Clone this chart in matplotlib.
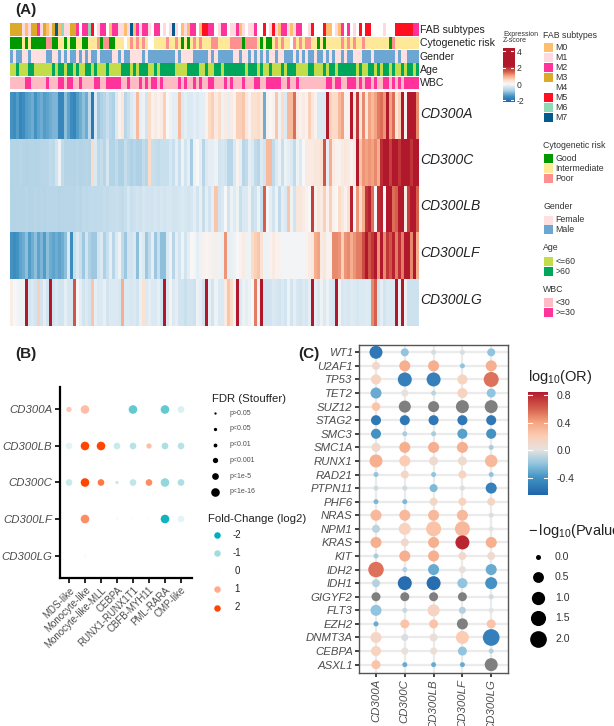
import numpy as np
import matplotlib
matplotlib.use('Agg')
from matplotlib import pyplot as plt
from matplotlib.colors import ListedColormap, LinearSegmentedColormap, Normalize
from matplotlib.patches import Rectangle

plt.rcParams['font.family'] = ['Liberation Sans', 'DejaVu Sans']
plt.rcParams['mathtext.fontset'] = 'custom'
plt.rcParams['mathtext.rm'] = 'Liberation Sans'
plt.rcParams['mathtext.default'] = 'regular'

W, H = 614, 726

# panel A annotation tracks, one char per patient
fab = ("3333101332" "1301370611" "3324226541" "2240221101" "7021221422"
       "4141714010" "2240552241" "2241120141" "1244541510" "2210122441"
       "5444500410" "2424145455" "4444144455" "555522")
cyto = ("GGGGIGIGGG" "GGPPGGIIGI" "GGIIGGIIIP" "GPPGGIIIWI" "PIPIPIWWII"
        "IIPIIPIGIG" "IPIPIIIPPI" "IIIPPPPGPP" "PPIGIGGIPI" "PIIWPIPIPP"
        "IIGIGIIIII" "PIPIPIIPII" "IIIIIIGPIIIIIIII")
gender = ("MFMMFFMFFF" "FFMMFFMFMF" "MMFMFMFMMF" "MMMMFFMFMM" "FFFFMFMMMM"
          "MMMMMFMFFF" "FMMMMMFMFM" "MMMMFFMFFM" "FMFMFMFFMF" "FMMMFMFMFM"
          "MFMMFMFMFF" "MFMMFFFMMM" "FMMMMMMMFMFFMMMM")
age = ("yyoyyyooyy" "yyyyoyooyo" "oyoyyooyoy" "yyoyyyyooo" "yoyoooyyoy"
       "oooooyyyyo" "oooyyoyyoo" "yoooooooyo" "ooyoyyoyyy" "oyoooyyyyo"
       "oyyyoyooyo" "oooooyoyyo" "oyoyooyoyyoyooyo")
wbc = ("lllllhhlll" "llhlllhhlh" "hllhllllhh" "llhhhhhllh" "lllhlhlhhl"
       "hlllllhlhl" "lhlhllhhll" "lhlhlllhll" "lhhllhhhhh" "llhllhllll"
       "lllllhhlhh" "llhhhlhlhh" "lhllhhlhlhlhhhhh")

fab_names = ['M0', 'M1', 'M2', 'M3', 'M4', 'M5', 'M6', 'M7']
fab_cols = ['#FDBF6F', '#FFD9E0', '#FF3399', '#DAAA28', '#FFFFFF', '#FF1020', '#8FD9B6', '#045A8D']
cyto_names = ['Good', 'Intermediate', 'Poor']
cyto_cols = ['#009A00', '#FFE999', '#FF9090']
gender_names = ['Female', 'Male']
gender_cols = ['#FFE0E0', '#6CA6D2']
age_names = ['<=60', '>60']
age_cols = ['#C2DC4A', '#00A65A']
wbc_names = ['<30', '>=30']
wbc_cols = ['#FFBBC4', '#FF3399']

# panel A expression z-scores
cd300a = [-1.5,-1.6,-1.4,-1.7,-1.6,-1.4,-1.3,-1.2,-1.5,-1.3,
          -1.2,-1.4,-1.3,-1.2,-1.1,-1.1,-1.7,-1.7,-1.0,-1.3,
          -1.6,-1.7,-1.4,-1.2,-1.0,-1.2,-.6,-1.9,-.3,-.9,
          -.8,-.7,-.5,-.7,-.8,-.3,.1,.3,-.7,-.5,
          -.3,-.2,.8,-.2,-.1,-.4,.5,.1,.2,.1,
          .2,.6,0,-.1,-.2,-.2,.8,-.3,-.2,-.3,
          -.3,-.2,-.3,-.2,-.2,.1,.5,.6,.2,.5,
          -.1,.2,-.2,.2,.1,.6,.6,.7,.3,.1,
          .4,.4,.5,.3,-1.2,.1,0,.1,.7,-.1,
          .5,-.3,.8,.8,1.4,.2,.1,.2,.1,.6,
          .3,.1,-.3,-.3,-.3,2.2,.6,.5,.5,.8,
          1.0,.1,.1,2.2,.3,1.9,.3,1.2,.3,1.0,
          .8,1.0,1.3,1.4,1.1,2.2,1.0,1.4,.3,.6,2.2,.1,2.3,2.4,2.2,1.2]
cd300c = [-.75,-.72,-.75,-.7,-.72,-.78,-.72,-.72,-.75,-.72,
          -.7,-.7,-.7,-.6,-.65,-.4,-.1,-.6,-.72,-.72,
          -.72,-.75,-.7,-.75,-.72,-.7,-.72,.5,-.3,-.65,
          -.55,-.7,-.35,-.75,-.75,-.6,-.8,-.8,-.55,-.7,
          -.8,-.7,-.8,-.8,-.6,-.7,.5,-.5,-.55,-.6,
          -.5,-.5,-.5,-.35,-.5,-.2,-.5,-.1,-.4,-.2,
          -.85,-.1,0,-.2,-.7,-.3,-.2,-.2,-.1,-.4,
          -.35,-.4,-.7,-.7,-.3,.1,-.2,-.7,-.6,-.2,
          -.3,-.6,-.7,-.3,-.4,.8,.8,-.6,-.3,-.1,
          -.5,-.1,-.2,-.3,-.6,-.1,-.3,0,.2,.2,
          .2,.3,.3,.4,1.6,-.2,.9,.2,.1,.1,
          .2,.3,.2,.1,.2,2.2,.7,1.1,1.0,1.1,
          1.0,1.2,.9,2.0,2.2,2.4,1.8,2.5,2.2,1.9,2.6,2.3,2.5,1.9,2.6,2.6]
cd300lb = [-.75,-.75,-.72,-.72,-.72,-.7,-.72,-.72,-.7,-.72,
           -.7,-.72,-.7,-.68,-.7,-.7,-.72,-.7,-.68,-.68,
           -.7,-.68,-.65,-.68,-.62,-.65,-.62,-.6,-.62,-.6,
           -.6,-.55,-.6,-.55,-.55,-.5,-.55,-.6,-.5,-.35,
           -.5,-.45,-.4,-.45,-.35,-.4,-.4,-.4,-.35,-.4,
           -.35,-.4,-.35,-.35,-.4,-.4,-.35,-.3,-.35,-.4,
           -.35,-.2,-.4,-.15,-.55,-.2,-.4,-.2,.7,-.4,
           -.3,0,-.4,-.1,-.25,-.1,-.5,-.3,-.3,-.1,
           -.5,-.4,-.1,-.5,1.5,0,-.2,-.4,-.1,-.6,
           -.2,-.3,.7,-.1,-.4,.3,.3,.2,.1,0,
           1.8,.1,.3,.2,.6,.1,.6,.1,0,.5,
           .3,.1,.4,2.1,0,1.1,.5,.9,1.9,2.1,
           1.4,0,2.0,2.1,0,2.2,2.3,1.4,1.5,2.2,2.4,.2,1.8,2.4,2.5,1.5]
cd300lf = [-1.5,-1.6,-1.5,-1.3,-1.2,-1.0,-1.4,-1.2,-1.0,-1.3,
           -1.1,-1.4,-1.0,-1.2,-1.3,-1.2,-1.3,-1.2,-1.0,-.3,
           -1.6,-.5,-.3,-.5,-.9,-.4,-.8,-.9,-.9,-.4,
           -.3,-.8,-.5,-.2,-.7,-.3,-.1,-.6,-.9,-.4,
           -.4,-.3,-1.0,-.2,-.3,-.9,-.6,-.2,-.9,-.5,
           -1.0,-1.0,-.3,-.1,-.7,-.2,-.4,-.1,-.4,-.2,
           0,-.05,-.2,-.1,.1,.05,.1,-.1,.15,-.1,
           -.15,1.1,-.2,-.15,-.1,0,.1,.2,-.1,-.1,
           .5,.6,.7,.4,-.1,-.1,.1,.2,.1,.1,
           -.05,-.05,-.05,-.05,-.05,-.05,-.05,-.05,.1,.2,
           .3,.9,1.0,.2,.3,.1,.1,1.2,1.2,1.1,
           .6,1.1,1.2,.9,1.1,1.3,1.3,1.7,2.2,1.6,
           1.9,2.2,1.1,2.2,1.2,1.9,1.6,2.1,1.3,2.0,1.3,2.5,2.5,1.2,2.3,.9]
cd300lg = [.15,0,-.05,-.1,-.1,2.5,-.4,-.3,-.4,.6,
           -.4,-.2,-.4,2.4,-.4,-.3,-.4,-.4,-.2,-.35,
           -.35,1.6,0,-.2,-.4,-.3,-.4,.7,-.2,-.3,
           -.3,-.15,-.4,-.3,-.3,-.3,-.35,.9,-.3,-.3,
           -.35,-.3,-.4,-.15,.4,-.3,-.2,-.3,-.3,-.2,
           -.4,2.4,-.3,.1,-.3,-.2,-.4,-.4,-.5,-.4,
           -.4,-.45,-.1,-.2,-.4,2.3,-.2,-.4,-.1,-.3,
           -.3,.2,.7,.5,-.1,2.5,-.3,-.1,-.2,-.1,
           0,1.3,-.1,2.2,-.4,-.4,-.4,-.3,-.35,-.4,
           -.3,-.4,-.1,-.4,-.2,-.35,-.4,-.3,-.35,-.2,
           2.3,-.2,-.3,-.1,-.3,-.1,-.3,-.35,2.3,-.1,
           -.35,-.3,-.35,-.25,-.3,-.35,-.3,-.3,-.25,-.3,
           1.2,1.5,-.4,-.2,-.4,-.3,-.3,-.3,2.3,-.1,2.4,-.1,-.45,-.45,-.45,-.45]
genes = ['CD300A', 'CD300C', 'CD300LB', 'CD300LF', 'CD300LG']

# panel B
b_genes = ['CD300A', 'CD300LB', 'CD300C', 'CD300LF', 'CD300LG']
b_types = ['MDS-like', 'Monocyte-like', 'Monocyte-like-MLL', 'CEBPA',
           'RUNX1-RUNX1T1', 'CBFB-MYH11', 'PML-RARA', 'CMP-like']
b_fc = [[.7, .8, 0, 0, -1.4, 0, -1.4, -.4],
        [-.3, 2, 2, -.6, -.8, .8, -.9, -.8],
        [-.6, 2, 1.5, -.6, -.7, 1.3, -1.1, -.9],
        [0, 1.3, 0, -.1, -.05, -.05, -1.9, -.3],
        [0, .05, 0, 0, 0, 0, 0, 0]]
b_fdr = [[3, 5, 0, 0, 5, 0, 5, 4],
         [4, 5, 5, 4, 4, 3, 4, 4],
         [4, 5, 4, 1, 4, 4, 5, 4],
         [0, 5, 0, 1, 1, 1, 5, 4],
         [0, 1, 0, 0, 0, 0, 0, 0]]
fdr_labels = ['p>0.05', 'p<0.05', 'p<0.01', 'p<0.001', 'p<1e-5', 'p<1e-16']
fdr_sizes = [2.3, 3.3, 3.8, 5.3, 6.7, 8.6]
fc_levels = [-2, -1, 0, 1, 2]

# panel C, nan = grey dot
c_muts = ['WT1', 'U2AF1', 'TP53', 'TET2', 'SUZ12', 'STAG2', 'SMC3', 'SMC1A', 'RUNX1',
          'RAD21', 'PTPN11', 'PHF6', 'NRAS', 'NPM1', 'KRAS', 'KIT', 'IDH2', 'IDH1',
          'GIGYF2', 'FLT3', 'EZH2', 'DNMT3A', 'CEBPA', 'ASXL1']
n = np.nan
c_or = [[-.55, -.2, -.04, -.03, -.2],
        [.1, .35, .35, -.2, .35],
        [.15, -.5, -.5, .15, .55],
        [-.3, .02, -.1, .15, -.2],
        [.25, n, n, n, n],
        [-.55, -.55, -.55, -.55, -.55],
        [-.4, -.15, -.15, -.35, -.4],
        [.1, .35, .35, .35, -.15],
        [.35, .2, .08, .08, .3],
        [-.2, .12, -.2, .15, -.2],
        [-.05, -.05, -.25, -.03, -.5],
        [-.25, -.25, .12, .15, .12],
        [.3, .3, .3, .3, -.03],
        [-.1, .15, .25, .3, 0],
        [.35, .1, .35, .8, .35],
        [-.15, .35, .35, .1, .08],
        [.55, -.12, -.3, .04, -.3],
        [-.12, -.6, -.6, -.2, -.4],
        [n, n, n, n, -.05],
        [-.2, -.07, .13, -.12, 0],
        [-.3, .25, .25, n, .25],
        [.12, -.03, .05, .2, -.5],
        [.15, .04, .05, -.2, -.12],
        [.25, -.3, -.3, -.3, n]]
c_p = [[.93, .13, 0, 0, .13],
       [.13, .53, .53, 0, .53],
       [.37, 1.18, 1.18, .37, 1.46],
       [.53, .06, 0, .37, .23],
       [.18, .72, .53, .93, .93],
       [.37, .37, .37, .37, .37],
       [.37, 0, 0, .37, .37],
       [.23, .53, .53, .53, 0],
       [.93, .53, .23, .23, .82],
       [0, .13, 0, .13, 0],
       [0, 0, .13, 0, .53],
       [0, 0, .13, .13, .13],
       [.53, .53, .53, .53, 0],
       [.13, .72, 1.46, 1.46, 0],
       [.53, .13, .53, 1.18, .53],
       [0, .53, .53, .13, .13],
       [1.61, 0, .53, .06, .53],
       [.13, 1.18, 1.18, .37, .72],
       [.23, .23, .23, .23, 0],
       [.53, 0, .72, .06, 0],
       [0, .23, .23, .53, .23],
       [.53, .06, .13, .93, 2.0],
       [.37, .06, .06, .23, 0],
       [.23, 0, 0, 0, .93]]
p_legend = [0.0, 0.5, 1.0, 1.5, 2.0]
or_ticks = [0.8, 0.4, 0.0, -0.4]

GREY = '#4D4D4D'


def make_cmap(name, stops):
    lo, hi = stops[0][0], stops[-1][0]
    pts = [(v - lo) / (hi - lo) for v, c in stops]
    pts[-1] = 1.0
    return LinearSegmentedColormap.from_list(name, list(zip(pts, [c for v, c in stops])))


heat_cmap = make_cmap('heat', [(-2.2, '#2166AC'), (-1.5, '#4393C3'), (-.8, '#AFD2E6'),
                               (-.3, '#DCEAF3'), (0, '#F7F7F7'), (.5, '#FDDBC7'),
                               (1, '#F4A582'), (1.5, '#D6604D'), (2.2, '#B2182B'),
                               (4.4, '#B2182B')])
heat_norm = Normalize(-2.2, 4.4)
or_cmap = make_cmap('or', [(-.65, '#2166AC'), (-.4, '#4393C3'), (-.2, '#92C5DE'),
                           (0, '#E5E3E1'), (.2, '#FDCDB5'), (.4, '#F4A582'),
                           (.6, '#D6604D'), (.85, '#B2182B')])
or_norm = Normalize(-.65, .85)
fc_cmap = LinearSegmentedColormap.from_list('fc', ['#00AFBB', '#A3DCE0', '#FFFFFF', '#FFAD8F', '#FF4500'])
fc_norm = Normalize(-2, 2)


def px_axes(x0, y0, x1, y1):
    return fig.add_axes([x0 / W, 1 - y1 / H, (x1 - x0) / W, (y1 - y0) / H])


def pt2(d):
    return (d * 72 / 100) ** 2


def p_size(p):
    return pt2(5 + 11.7 * np.sqrt(np.asarray(p) / 2))


fig = plt.figure(figsize=(W / 100, H / 100), dpi=100)

# overlay for texts and legends, in pixel coords
ov = fig.add_axes([0, 0, 1, 1], zorder=5)
ov.set_xlim(0, W)
ov.set_ylim(H, 0)
ov.axis('off')

# ---- panel A
tracks = [('FAB subtypes', fab, '01234567', fab_cols, 23.3, 36, 30),
          ('Cytogenetic risk', cyto, 'GIPW', cyto_cols + ['#FFFFFF'], 36.7, 49.3, 43),
          ('Gender', gender, 'FM', gender_cols, 50, 62.7, 56.5),
          ('Age', age, 'yo', age_cols, 63.3, 76, 70),
          ('WBC', wbc, 'lh', wbc_cols, 76.7, 89.3, 83)]
for name, s, codes, cols, y0, y1, ly in tracks:
    ax = px_axes(9.5, y0, 418, y1)
    row = np.array([[codes.index(c) for c in s]])
    ax.imshow(row, cmap=ListedColormap(cols), vmin=-.5, vmax=len(cols) - .5,
              aspect='auto', interpolation='nearest')
    ax.axis('off')
    ov.text(420, ly, name, fontsize=7.6, va='center', color='#222222')

ax = px_axes(9.5, 91.7, 418, 325.7)
mat = np.array([cd300a, cd300c, cd300lb, cd300lf, cd300lg])
ax.imshow(mat, cmap=heat_cmap, norm=heat_norm, aspect='auto', interpolation='nearest')
ax.axis('off')
for g, ly in zip(genes, [113.5, 160, 206.5, 253, 300]):
    ov.text(420, ly, g, fontsize=10, style='italic', va='center', color='#222222')

# expression colorbar
ov.text(503, 34, 'Expression', fontsize=5, va='center', color='#333333')
ov.text(503, 41, 'Z-score', fontsize=5, va='center', color='#333333')
cax = px_axes(502.5, 48, 514, 102)
cax.imshow(np.linspace(4.4, -2.2, 200)[:, None], cmap=heat_cmap, norm=heat_norm, aspect='auto',
           extent=[0, 1, -2.2, 4.4])
cax.set_xticks([])
cax.yaxis.tick_right()
cax.set_yticks([4, 2, 0, -2], ['4', '2', '0', '-2'], fontsize=6.2, color='#333333')
cax.tick_params(length=0, pad=2)
for sp in cax.spines.values():
    sp.set_visible(False)
for v in [4, 2, 0, -2]:
    cax.plot([0, .22], [v, v], color='white', lw=.8)
    cax.plot([.78, 1], [v, v], color='white', lw=.8)
cax.set_xlim(0, 1)
cax.set_ylim(-2.2, 4.4)

legends = [('FAB subtypes', fab_names, fab_cols, 35, 47.7),
           ('Cytogenetic risk', cyto_names, cyto_cols, 145.7, 158.7),
           ('Gender', gender_names, gender_cols, 206.7, 220),
           ('Age', age_names, age_cols, 248, 261.3),
           ('WBC', wbc_names, wbc_cols, 289, 302.3)]
for title, names, cols, ty, y0 in legends:
    ov.text(543, ty, title, fontsize=6.3, va='center', color='#333333')
    for i, (nm, c) in enumerate(zip(names, cols)):
        yy = y0 + i * 9.97
        ov.add_patch(Rectangle((543.5, yy - 4.5), 9, 9, fc=c, ec='none'))
        ov.text(555.5, yy, nm, fontsize=6.3, va='center', color='#333333')

# ---- panel B
ax = px_axes(60, 387, 192, 577.5)
ax.set_xlim((60 - 69) / 16, (192 - 69) / 16)
ax.set_ylim((577.5 - 409.5) / 36.5, (387 - 409.5) / 36.5)
fc = np.array(b_fc)
fdr = np.array(b_fdr)
yy, xx = np.mgrid[0:fc.shape[0], 0:fc.shape[1]]
ax.scatter(xx.ravel(), yy.ravel(), c=fc.ravel(), cmap=fc_cmap, norm=fc_norm, linewidths=0,
           s=pt2(np.array(fdr_sizes)[fdr.ravel()]), clip_on=False)
ax.set_xticks(range(len(b_types)))
ax.set_xticklabels(b_types, rotation=45, ha='right', rotation_mode='anchor', fontsize=7, color=GREY)
ax.set_yticks(range(len(b_genes)))
ax.set_yticklabels(b_genes, style='italic', fontsize=8.2, color=GREY)
ax.tick_params(width=1.2, length=3.5, pad=2, color='black')
for s in ['top', 'right']:
    ax.spines[s].set_visible(False)
for s in ['left', 'bottom']:
    ax.spines[s].set_linewidth(1.6)

ov.text(211.7, 398.5, 'FDR (Stouffer)', fontsize=8.2, va='center', color='#222222')
for lab, d, ly in zip(fdr_labels, fdr_sizes, [413.3, 429, 445, 460, 476, 491.7]):
    ov.scatter([215.3], [ly], s=pt2(d), c='black', linewidths=0)
    ov.text(230, ly, lab, fontsize=5, va='center', color=GREY)
ov.text(208, 519, 'Fold-Change (log2)', fontsize=8.2, va='center', color='#222222')
for v, ly in zip(fc_levels, [534.7, 552.7, 571, 589.3, 607.5]):
    ov.scatter([217], [ly], s=pt2(6.5), c=[fc_cmap(fc_norm(v))], linewidths=0)
    ov.text(237, ly, str(v), fontsize=7, va='center', ha='center', color='#222222')

# ---- panel C
ax = px_axes(359, 344.5, 508, 673)
ax.set_xlim((359 - 376) / 28.8, (508 - 376) / 28.8)
ax.set_ylim((673 - 352.3) / 13.58, (344.5 - 352.3) / 13.58)
ax.set_axisbelow(True)
ax.grid(color='#EBEBEB', lw=1.6)
ov_or = np.array(c_or)
ov_p = np.array(c_p)
yy, xx = np.mgrid[0:ov_or.shape[0], 0:ov_or.shape[1]]
ax.scatter(xx.ravel(), yy.ravel(), c=ov_or.ravel(), cmap=or_cmap, norm=or_norm,
           s=p_size(ov_p.ravel()), linewidths=0, zorder=3)
mask = np.isnan(ov_or)
ax.scatter(xx[mask], yy[mask], c='#7F7F7F', s=p_size(ov_p[mask]), linewidths=0, zorder=3)
ax.set_xticks(range(len(genes)))
ax.set_xticklabels(genes, rotation=90, style='italic', fontsize=8.2, color=GREY)
ax.set_yticks(range(len(c_muts)))
ax.set_yticklabels(c_muts, style='italic', fontsize=8.2, color=GREY)
ax.tick_params(width=1.2, length=3, pad=1.5, color='#222222')
for sp in ax.spines.values():
    sp.set_linewidth(1)
    sp.set_color('#555555')

ov.text(528, 377, r'$\mathregular{log_{10}(OR)}$', fontsize=10.5, va='center', color='#222222')
cax = px_axes(528, 391.7, 548, 495)
cax.imshow(np.linspace(.85, -.65, 200)[:, None], cmap=or_cmap, norm=or_norm, aspect='auto',
           extent=[0, 1, -.65, .85])
cax.set_xticks([])
cax.yaxis.tick_right()
cax.set_yticks(or_ticks, [f'{v:.1f}' for v in or_ticks], fontsize=7.6, color='#333333')
cax.tick_params(length=0, pad=6)
for sp in cax.spines.values():
    sp.set_visible(False)
for v in or_ticks:
    cax.plot([0, .2], [v, v], color='white', lw=.8)
    cax.plot([.8, 1], [v, v], color='white', lw=.8)
cax.set_xlim(0, 1)
cax.set_ylim(-.65, .85)

ov.text(528, 531.5, r'$\mathregular{-\,log_{10}(Pvalue)}$', fontsize=10.5, va='center', color='#222222')
for v, ly in zip(p_legend, [556.7, 577.3, 598, 618, 639]):
    ov.scatter([538.3], [ly], s=p_size(v), c='black', linewidths=0)
    ov.text(555, ly, f'{v:.1f}', fontsize=7.6, va='center', color='#333333')

# panel letters
ov.text(15, 10, '(A)', fontsize=11, fontweight='bold', va='center', color='#222222')
ov.text(15, 354, '(B)', fontsize=11, fontweight='bold', va='center', color='#222222')
ov.text(298, 354, '(C)', fontsize=11, fontweight='bold', va='center', color='#222222')

fig.savefig('out.png', dpi=100)
